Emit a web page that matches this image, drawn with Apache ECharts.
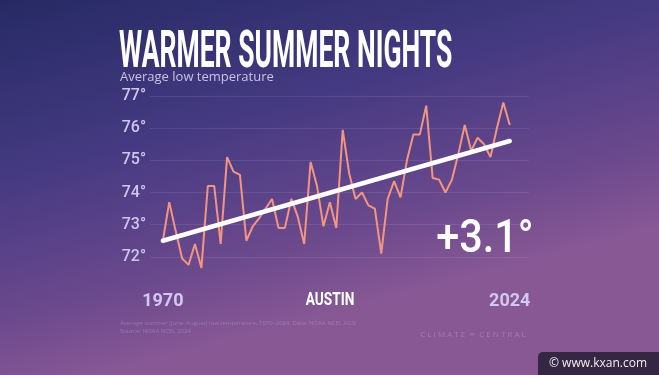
<!DOCTYPE html>
<html><head><meta charset="utf-8">
<script src="https://cdn.jsdelivr.net/npm/echarts@6/dist/echarts.min.js"></script>
<style>html,body{margin:0;padding:0;background:#3a3478;}#c{width:659px;height:375px;}</style>
</head><body><div id="c"></div>
<script>
const years = [1970,1971,1972,1973,1974,1975,1976,1977,1978,1979,1980,1981,1982,1983,1984,1985,1986,1987,1988,1989,1990,1991,1992,1993,1994,1995,1996,1997,1998,1999,2000,2001,2002,2003,2004,2005,2006,2007,2008,2009,2010,2011,2012,2013,2014,2015,2016,2017,2018,2019,2020,2021,2022,2023,2024];
const lows = [72.5,73.7,72.8,71.95,71.75,72.4,71.65,74.2,74.2,72.4,75.1,74.65,74.55,72.5,72.95,73.2,73.5,73.8,72.9,72.9,73.8,73.25,72.4,74.95,74.2,72.95,73.7,72.9,75.95,74.6,73.8,74.0,73.6,73.5,72.1,73.8,74.35,73.85,75.0,75.8,75.8,76.7,74.45,74.4,74.0,74.4,75.2,76.1,75.3,75.7,75.5,75.1,76.0,76.8,76.1];
const trendYears = [1970, 2024];
const trendValues = [72.5, 75.6];
const yTicks = [72,73,74,75,76,77];
const xTicks = [1970, 2024];
const changeLabel = '+3.1°';

const chart = echarts.init(document.getElementById('c'));
const lab = "Roboto,sans-serif";
chart.setOption({
  backgroundColor: {type:'linear',x:0,y:0,x2:0.15,y2:1,colorStops:[
    {offset:0,color:'#262a64'},{offset:0.45,color:'#453a82'},{offset:0.8,color:'#6b498d'},{offset:1,color:'#875894'}]},
  animation:false,
  grid:{left:150,right:130,top:96,bottom:86},
  xAxis:{type:'value',min:1968,max:2027,
    axisLine:{show:false},axisTick:{show:false},splitLine:{show:false},
    axisLabel:{customValues:xTicks,margin:3,color:'#d2c8f0',fontSize:18,fontWeight:'bold',fontFamily:lab,formatter:v=>String(v)}},
  yAxis:{type:'value',min:71,max:77,interval:1,
    axisLine:{show:false},axisTick:{show:false},
    splitLine:{lineStyle:{color:['rgba(0,0,0,0)','rgba(200,190,240,0.13)','rgba(200,190,240,0.13)','rgba(200,190,240,0.13)','rgba(200,190,240,0.13)','rgba(200,190,240,0.13)','rgba(200,190,240,0.13)'],width:1}},
    axisLabel:{margin:4,color:'#cfc6ee',fontSize:16,fontWeight:500,fontFamily:lab,
      formatter:v=>yTicks.includes(v)?v+'°':''}},
  series:[
    {type:'line',data:years.map((y,i)=>[y,lows[i]]),symbol:'none',lineStyle:{color:'#f49580',width:2},z:2},
    {type:'line',data:trendYears.map((y,i)=>[y,trendValues[i]]),symbol:'none',lineStyle:{color:'#ffffff',width:4.5,cap:'round'},z:3}
  ],
  graphic:[
    {type:'text',x:119,y:29,scaleX:0.52,style:{text:'WARMER SUMMER NIGHTS',fill:'#ffffff',font:"bold 51px Roboto"}},
    {type:'text',x:120,y:71,style:{text:'Average low temperature',fill:'#c9c2e4',font:"13px 'Open Sans'"}},
    {type:'text',x:330,y:300,scaleX:0.72,style:{text:'AUSTIN',fill:'#ffffff',font:"bold 19px Roboto",align:'center',verticalAlign:'middle'}},
    {type:'text',x:485,y:240,scaleX:0.88,style:{text:changeLabel,fill:'#ffffff',font:"500 47px Roboto",align:'center',verticalAlign:'middle'}},
    {type:'text',x:120,y:320,style:{text:'Average summer (June–August) low temperature, 1970–2024. Data: NOAA NCEI, ACIS',fill:'rgba(200,185,230,0.35)',font:"6px 'Open Sans'"}},
    {type:'text',x:120,y:328,style:{text:'Source: NOAA NCEI, 2024',fill:'rgba(200,185,230,0.35)',font:"6px 'Open Sans'"}},
    {type:'text',x:473,y:335,style:{text:'C L I M A T E  ∞  C E N T R A L',fill:'rgba(205,190,235,0.35)',font:"8px 'Open Sans'",align:'center',verticalAlign:'middle'}},
    {type:'rect',shape:{x:538,y:352,width:121,height:23,r:[5,0,0,0]},style:{fill:'rgba(25,22,40,0.75)'}},
    {type:'text',x:598,y:364,style:{text:'© www.kxan.com',fill:'#f0f0f0',font:"12px 'Open Sans'",align:'center',verticalAlign:'middle'}}
  ]
});
</script></body></html>
